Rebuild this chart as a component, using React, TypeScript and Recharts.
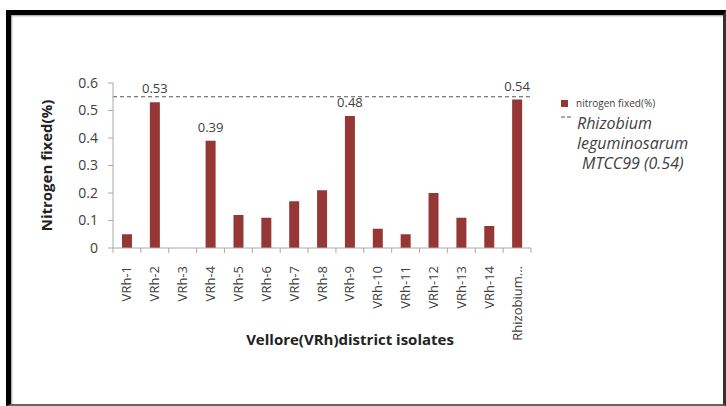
import React from 'react';
import { BarChart, Bar, XAxis, YAxis, ReferenceLine, LabelList, Label, Legend } from 'recharts';

const categories = [
  'VRh-1', 'VRh-2', 'VRh-3', 'VRh-4', 'VRh-5', 'VRh-6', 'VRh-7', 'VRh-8',
  'VRh-9', 'VRh-10', 'VRh-11', 'VRh-12', 'VRh-13', 'VRh-14', 'Rhizobium leguminosarum',
];
const nitrogenFixed = [0.05, 0.53, 0, 0.39, 0.12, 0.11, 0.17, 0.21, 0.48, 0.07, 0.05, 0.2, 0.11, 0.08, 0.54];
const labelledIsolates = ['VRh-2', 'VRh-4', 'VRh-9', 'Rhizobium leguminosarum'];
const yTicks = [0, 0.1, 0.2, 0.3, 0.4, 0.5, 0.6];
const referenceValue = 0.55;

const data = categories.map((name, i) => ({
  name,
  value: nitrogenFixed[i],
  label: labelledIsolates.includes(name) ? nitrogenFixed[i] : null,
}));

const FONT = '"Open Sans", "Liberation Sans", sans-serif';
const BAR_COLOR = '#953735';
const TEXT = '#404040';

const CHART_W = 712;
const CHART_H = 389;
const MARGIN = { top: 68, right: 192, bottom: 46, left: 0 };
const Y_AXIS_W = 102;
const PLOT_W = CHART_W - MARGIN.left - MARGIN.right - Y_AXIS_W;
const STEP = PLOT_W / categories.length;

const XTick = (props: any) => {
  const { x, y, payload, index } = props;
  const name: string = payload.value;
  const text = name.includes(' ') ? name.split(' ')[0] + '...' : name;
  const left = x - STEP / 2;
  const right = x + STEP / 2;
  return (
    <g>
      <line x1={left} y1={y} x2={left} y2={y + 5} stroke="#aaa" />
      {index === categories.length - 1 && <line x1={right} y1={y} x2={right} y2={y + 5} stroke="#aaa" />}
      <text
        x={0}
        y={0}
        transform={`translate(${x},${y + 18}) rotate(-90)`}
        textAnchor="end"
        dy="0.35em"
        fontSize={13}
        fontFamily={FONT}
        fill={TEXT}
      >
        {text}
      </text>
    </g>
  );
};

const renderValueLabel = (props: any) => {
  const { x, y, width, value } = props;
  if (value === null || value === undefined) return null;
  return (
    <text x={x + width / 2} y={y - 9} textAnchor="middle" fontSize={13} fontFamily={FONT} fill={TEXT}>
      {value}
    </text>
  );
};

const LegendContent = () => (
  <div style={{ fontFamily: FONT, color: TEXT }}>
    <div style={{ display: 'flex', alignItems: 'center' }}>
      <span style={{ width: 7, height: 7, background: BAR_COLOR, display: 'inline-block' }} />
      <span style={{ marginLeft: 8, fontSize: 10 }}>nitrogen fixed(%)</span>
    </div>
    <div style={{ display: 'flex', marginTop: 3 }}>
      <svg width={12} height={8} style={{ marginTop: 2 }}>
        <line x1={0} y1={2} x2={12} y2={2} stroke="#555" strokeDasharray="4 2" />
      </svg>
      <div style={{ marginLeft: 4, fontStyle: 'italic', fontSize: 16, lineHeight: '20px' }}>
        Rhizobium
        <br />
        leguminosarum
        <br />
        <span style={{ marginLeft: 5 }}>MTCC99 (0.54)</span>
      </div>
    </div>
  </div>
);

export default function App() {
  return (
    <div
      style={{
        position: 'absolute',
        left: 6,
        top: 10,
        width: 720,
        height: 396,
        boxSizing: 'border-box',
        borderLeft: '5px solid #000',
        borderTop: '5px solid #000',
        borderRight: '3px solid #333',
        borderBottom: '2px solid #666',
        boxShadow: 'inset 1px 1px 2px #999',
        background: '#fff',
      }}
    >
      <BarChart width={CHART_W} height={CHART_H} data={data} margin={MARGIN}>
        <XAxis
          dataKey="name"
          interval={0}
          tickSize={0}
          tickMargin={0}
          tickLine={false}
          height={110}
          stroke="#aaa"
          tick={<XTick />}
        >
          <Label
            value="Vellore(VRh)district isolates"
            position="insideBottom"
            offset={13}
            dx={28}
            style={{ fontFamily: FONT, fontSize: 15, fontWeight: 'bold', fill: '#222' }}
          />
        </XAxis>
        <YAxis
          width={Y_AXIS_W}
          domain={[0, 0.6]}
          ticks={yTicks}
          tickSize={5}
          tickMargin={10}
          stroke="#aaa"
          tick={{ fontFamily: FONT, fontSize: 14, fill: TEXT }}
        >
          <Label
            value="Nitrogen fixed(%)"
            angle={-90}
            position="insideLeft"
            offset={36}
            style={{ textAnchor: 'middle', fontFamily: FONT, fontSize: 15, fontWeight: 'bold', fill: '#222' }}
          />
        </YAxis>
        <Legend
          layout="horizontal"
          align="center"
          verticalAlign="middle"
          wrapperStyle={{ left: 550, top: 81, width: 165 }}
          content={<LegendContent />}
        />
        <ReferenceLine y={referenceValue} stroke="#555" strokeDasharray="4 3" />
        <Bar dataKey="value" name="nitrogen fixed(%)" fill={BAR_COLOR} barSize={10} isAnimationActive={false}>
          <LabelList dataKey="label" content={renderValueLabel} />
        </Bar>
      </BarChart>
    </div>
  );
}
